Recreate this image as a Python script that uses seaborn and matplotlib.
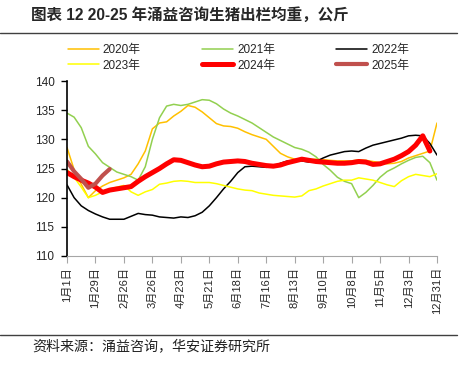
import pandas as pd
import matplotlib
matplotlib.use("Agg")
import matplotlib.pyplot as plt
import seaborn as sns
from matplotlib.lines import Line2D

# weekly values, day-of-year = week * 7
y2020 = [128.6, 124.8, 122.3, 120.0, 121.2, 122.0, 122.6, 123.0, 123.4, 124.0,
         125.8, 128.0, 131.8, 132.8, 133.0, 134.0, 134.8, 135.8, 135.5, 134.7,
         133.7, 132.7, 132.3, 132.2, 131.9, 131.3, 130.8, 130.4, 130.0, 128.8,
         127.6, 127.0, 126.6, 126.6, 126.5, 126.6, 126.5, 126.4, 126.3, 126.3,
         126.3, 126.5, 126.4, 126.2, 126.0, 125.8, 125.9, 126.2, 126.8, 127.2,
         127.6, 128.0, 132.8]
y2021 = [134.5, 133.8, 132.0, 128.8, 127.5, 126.0, 125.2, 124.4, 124.0, 123.6,
         123.0, 125.3, 130.0, 133.7, 135.7, 136.0, 135.8, 136.0, 136.4, 136.8,
         136.7, 136.1, 135.2, 134.5, 134.0, 133.4, 132.8, 132.0, 131.2, 130.4,
         129.8, 129.2, 128.6, 128.3, 127.8, 127.0, 125.7, 124.7, 123.5, 122.8,
         122.4, 120.0, 120.9, 122.1, 123.5, 124.5, 125.1, 125.8, 126.4, 126.9,
         127.1, 126.0, 123.0]
y2022 = [122.2, 120.0, 118.6, 117.8, 117.2, 116.7, 116.3, 116.3, 116.3, 116.8,
         117.3, 117.1, 117.0, 116.7, 116.6, 116.5, 116.7, 116.6, 116.9, 117.5,
         118.6, 120.0, 121.5, 122.8, 124.3, 125.3, 125.4, 125.3, 125.2, 125.4,
         125.9, 126.3, 126.3, 126.3, 126.1, 126.2, 126.8, 127.3, 127.6, 127.9,
         128.0, 127.9, 128.5, 129.0, 129.3, 129.6, 129.9, 130.2, 130.6, 130.7,
         130.6, 129.3, 127.3]
y2023 = [124.8, 123.5, 121.8, 120.0, 120.4, 121.0, 121.5, 121.8, 122.1, 121.0,
         120.4, 121.0, 121.4, 122.3, 122.5, 122.8, 122.9, 122.8, 122.6, 122.6,
         122.6, 122.4, 122.1, 121.8, 121.5, 121.3, 121.2, 120.8, 120.6, 120.4,
         120.3, 120.2, 120.1, 120.3, 121.2, 121.5, 122.0, 122.4, 122.8, 123.0,
         123.0, 123.4, 123.2, 123.0, 122.6, 122.2, 121.9, 122.9, 123.6, 124.0,
         123.8, 123.6, 124.1]
y2024 = [124.3, 123.6, 123.0, 122.5, 121.8, 120.9, 121.3, 121.5, 121.7, 121.9,
         122.8, 123.6, 124.3, 125.0, 125.8, 126.5, 126.4, 126.0, 125.6, 125.3,
         125.4, 125.8, 126.1, 126.2, 126.3, 126.2, 125.9, 125.7, 125.5, 125.4,
         125.6, 126.0, 126.3, 126.6, 126.4, 126.2, 126.1, 126.0, 125.9, 125.9,
         126.0, 126.2, 126.1, 125.7, 125.8, 126.2, 126.6, 127.2, 127.9, 129.0,
         130.6, 128.0]
y2025 = [126.2, 124.5, 123.2, 121.7, 122.4, 123.8, 124.9]

years = ["2020年", "2021年", "2022年", "2023年", "2024年", "2025年"]
series = [y2020, y2021, y2022, y2023, y2024, y2025]
colors = ["#FFC000", "#92D050", "#000000", "#FFFF00", "#FF0000", "#C0504D"]
widths = [1.1, 1.1, 1.1, 1.1, 3.6, 3.0]

tick_days = list(range(0, 365, 28))
tick_labels = ["1月1日", "1月29日", "2月26日", "3月26日", "4月23日", "5月21日", "6月18日",
               "7月16日", "8月13日", "9月10日", "10月8日", "11月5日", "12月3日", "12月31日"]

sns.set_style("white")
plt.rcParams["font.family"] = ["Liberation Sans", "Noto Sans CJK SC", "DejaVu Sans"]

fig = plt.figure(figsize=(4.71, 3.72), dpi=100)
ax = fig.add_axes([67 / 471, 1 - 256 / 372, 370 / 471, 175 / 372])

for name, vals, c, w in zip(years, series, colors, widths):
    df = pd.DataFrame({"day": [i * 7 for i in range(len(vals))], "kg": vals})
    sns.lineplot(data=df, x="day", y="kg", ax=ax, color=c, linewidth=w,
                 solid_capstyle="round", legend=False)

ax.set_xlim(0, 364)
ax.set_ylim(110, 140)
ax.set_yticks(range(110, 141, 5))
ax.set_xticks(tick_days)
ax.set_xticklabels(tick_labels, rotation=90, fontsize=8)
ax.tick_params(axis="y", labelsize=8.5, length=4, width=1, color="black", pad=5, left=True)
ax.tick_params(axis="x", length=5, width=0.8, color="#A6A6A6", pad=3, bottom=True)
ax.set_xlabel("")
ax.set_ylabel("")
for s in ["top", "right"]:
    ax.spines[s].set_visible(False)
ax.spines["left"].set_color("black")
ax.spines["left"].set_linewidth(1.2)
ax.spines["bottom"].set_color("#A6A6A6")
ax.spines["bottom"].set_linewidth(0.8)

# legend: columns 2020/2023, 2021/2024, 2022/2025
order = [0, 3, 1, 4, 2, 5]
handles = [Line2D([], [], color=colors[i], linewidth=widths[i], solid_capstyle="round") for i in order]
fig.legend(handles, [years[i] for i in order], ncol=3, frameon=False,
           loc="upper left", bbox_to_anchor=(68 / 471, 1 - 44 / 372),
           fontsize=8.5, handlelength=2.6, handletextpad=0.35,
           columnspacing=5.2, labelspacing=0.3, borderpad=0, borderaxespad=0)

fig.text(31 / 471, 1 - 15 / 372, "图表 12 20-25 年涌益咨询生猪出栏均重，公斤",
         fontsize=11.2, fontweight="bold", va="center", ha="left")
fig.add_artist(Line2D([0, 457 / 471], [1 - 33 / 372] * 2, color="#404040", linewidth=1))
fig.add_artist(Line2D([0, 457 / 471], [1 - 335 / 372] * 2, color="#404040", linewidth=1))
fig.text(32 / 471, 1 - 347 / 372, "资料来源：涌益咨询，华安证券研究所",
         fontsize=10.1, va="center", ha="left", color="#202020")

fig.savefig("out.png", dpi=100)
